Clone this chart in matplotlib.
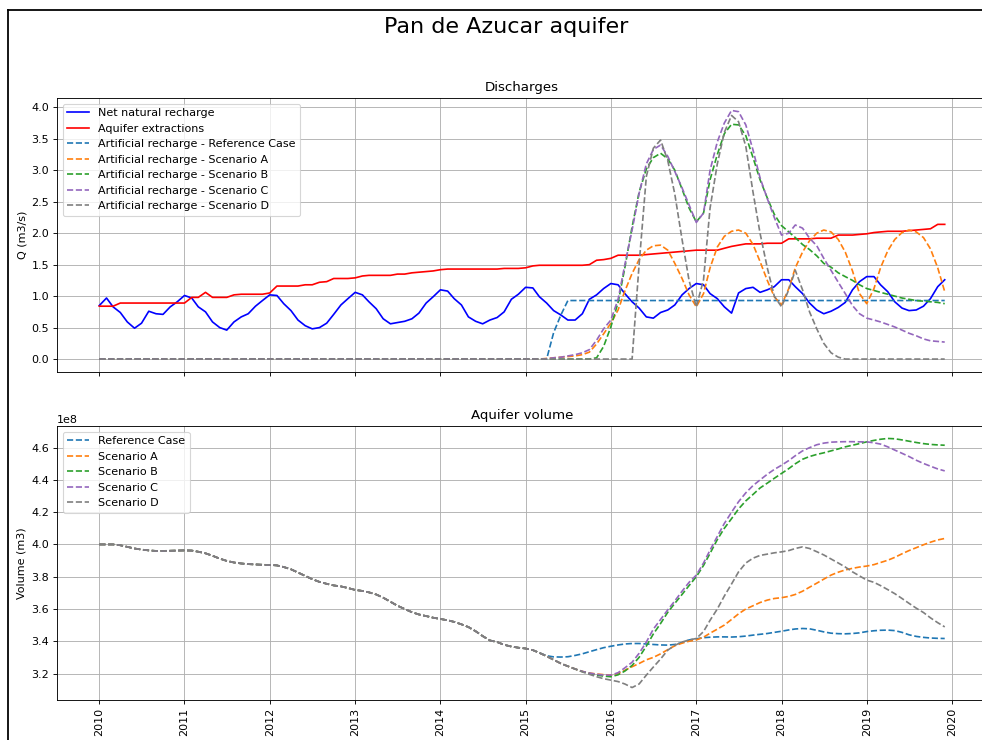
import numpy as np
import pandas as pd
import matplotlib
matplotlib.use("Agg")
import matplotlib.pyplot as plt
import matplotlib.dates as mdates
from matplotlib.lines import Line2D

# ---------------- data ----------------
dates = pd.date_range("2010-01-01", "2019-12-01", freq="MS")

net_natural_recharge = [
    0.85, 0.97, 0.83, 0.74, 0.59, 0.49, 0.57, 0.76, 0.72, 0.71, 0.83, 0.91,
    1.01, 0.97, 0.83, 0.75, 0.59, 0.50, 0.46, 0.59, 0.67, 0.72, 0.84, 0.93,
    1.02, 1.01, 0.88, 0.77, 0.62, 0.53, 0.48, 0.50, 0.57, 0.71, 0.86, 0.96,
    1.06, 1.02, 0.91, 0.80, 0.64, 0.56, 0.58, 0.60, 0.64, 0.73, 0.89, 0.99,
    1.10, 1.08, 0.96, 0.86, 0.67, 0.60, 0.56, 0.62, 0.66, 0.75, 0.95, 1.03,
    1.14, 1.13, 0.99, 0.89, 0.77, 0.70, 0.62, 0.62, 0.72, 0.95, 1.02, 1.12,
    1.20, 1.18, 1.04, 0.91, 0.81, 0.67, 0.65, 0.74, 0.78, 0.86, 1.02, 1.12,
    1.20, 1.18, 1.04, 0.96, 0.83, 0.73, 1.05, 1.12, 1.14, 1.06, 1.10, 1.15,
    1.26, 1.26, 1.15, 1.04, 0.89, 0.78, 0.72, 0.76, 0.82, 0.90, 1.10, 1.23,
    1.31, 1.31, 1.18, 1.07, 0.91, 0.81, 0.77, 0.78, 0.84, 0.96, 1.15, 1.26,
]

aquifer_extractions = [
    0.84, 0.84, 0.84, 0.89, 0.89, 0.89, 0.89, 0.89, 0.89, 0.89, 0.89, 0.89,
    0.89, 0.98, 0.98, 1.06, 0.98, 0.98, 0.98, 1.02, 1.03, 1.03, 1.03, 1.03,
    1.05, 1.16, 1.16, 1.16, 1.16, 1.18, 1.18, 1.22, 1.23, 1.28, 1.28, 1.28,
    1.29, 1.32, 1.33, 1.33, 1.33, 1.33, 1.35, 1.35, 1.37, 1.38, 1.39, 1.40,
    1.42, 1.43, 1.43, 1.43, 1.43, 1.43, 1.43, 1.43, 1.43, 1.44, 1.44, 1.44,
    1.45, 1.48, 1.49, 1.49, 1.49, 1.49, 1.49, 1.49, 1.49, 1.50, 1.57, 1.58,
    1.60, 1.65, 1.65, 1.65, 1.65, 1.66, 1.67, 1.68, 1.69, 1.70, 1.71, 1.72,
    1.73, 1.73, 1.73, 1.73, 1.76, 1.79, 1.81, 1.83, 1.83, 1.83, 1.84, 1.84,
    1.84, 1.91, 1.91, 1.91, 1.91, 1.92, 1.92, 1.92, 1.97, 1.97, 1.97, 1.98,
    1.99, 2.01, 2.02, 2.03, 2.03, 2.03, 2.04, 2.05, 2.06, 2.07, 2.14, 2.14,
]

# artificial recharge is zero from 2010 to 2014 in every case
ar_zero_2010_2014 = [0.0] * 60

ar_reference_2015_2019 = [
    0.0, 0.0, 0.0, 0.0, 0.42, 0.70, 0.93, 0.93, 0.93, 0.93, 0.93, 0.93,
    0.93, 0.93, 0.93, 0.93, 0.93, 0.93, 0.93, 0.93, 0.93, 0.93, 0.93, 0.93,
    0.93, 0.93, 0.93, 0.93, 0.93, 0.93, 0.93, 0.93, 0.93, 0.93, 0.93, 0.93,
    0.93, 0.93, 0.93, 0.93, 0.93, 0.93, 0.93, 0.93, 0.93, 0.93, 0.93, 0.93,
    0.93, 0.93, 0.93, 0.93, 0.93, 0.93, 0.93, 0.93, 0.93, 0.93, 0.93, 0.93,
]
ar_scenario_a_2015_2019 = [
    0.0, 0.0, 0.0, 0.01, 0.02, 0.03, 0.04, 0.05, 0.07, 0.11, 0.24, 0.40,
    0.57, 0.78, 1.08, 1.36, 1.58, 1.73, 1.80, 1.81, 1.73, 1.52, 1.28, 1.02,
    0.83, 1.04, 1.45, 1.78, 1.95, 2.03, 2.05, 2.00, 1.82, 1.55, 1.25, 0.99,
    0.86, 1.12, 1.45, 1.70, 1.88, 2.00, 2.05, 2.02, 1.90, 1.70, 1.40, 1.04,
    0.88, 1.12, 1.45, 1.72, 1.90, 2.01, 2.05, 2.02, 1.93, 1.75, 1.45, 1.07,
]
ar_scenario_b_2015_2019 = [
    0.0, 0.0, 0.0, 0.0, 0.0, 0.0, 0.0, 0.0, 0.0, 0.0, 0.02, 0.20,
    0.51, 0.90, 1.45, 2.10, 2.65, 3.02, 3.20, 3.27, 3.18, 3.00, 2.70, 2.40,
    2.18, 2.32, 2.85, 3.25, 3.58, 3.73, 3.72, 3.55, 3.20, 2.85, 2.56, 2.30,
    2.12, 2.02, 1.93, 1.82, 1.74, 1.64, 1.52, 1.46, 1.37, 1.31, 1.25, 1.18,
    1.12, 1.09, 1.06, 1.03, 1.00, 0.97, 0.95, 0.93, 0.92, 0.91, 0.90, 0.88,
]
ar_scenario_c_2015_2019 = [
    0.0, 0.0, 0.0, 0.005, 0.02, 0.03, 0.05, 0.07, 0.10, 0.15, 0.30, 0.48,
    0.62, 0.95, 1.50, 2.05, 2.63, 3.10, 3.33, 3.40, 3.22, 2.98, 2.72, 2.45,
    2.17, 2.32, 3.00, 3.45, 3.75, 3.95, 3.93, 3.72, 3.32, 2.88, 2.55, 2.25,
    1.97, 2.00, 2.13, 2.08, 1.92, 1.80, 1.60, 1.41, 1.22, 1.04, 0.85, 0.72,
    0.65, 0.62, 0.59, 0.55, 0.51, 0.46, 0.41, 0.37, 0.32, 0.29, 0.28, 0.27,
]
ar_scenario_d_2015_2019 = [
    0.0, 0.0, 0.0, 0.0, 0.0, 0.0, 0.0, 0.0, 0.0, 0.0, 0.0, 0.0,
    0.0, 0.0, 0.0, 0.0, 1.50, 2.90, 3.35, 3.48, 3.15, 2.62, 1.90, 1.25,
    0.83, 1.26, 2.40, 3.10, 3.60, 3.87, 3.77, 3.38, 2.65, 2.00, 1.45, 1.00,
    0.83, 1.10, 1.41, 1.10, 0.75, 0.48, 0.25, 0.10, 0.03, 0.0, 0.0, 0.0,
    0.0, 0.0, 0.0, 0.0, 0.0, 0.0, 0.0, 0.0, 0.0, 0.0, 0.0, 0.0,
]

# aquifer volume, in units of 1e8 m3
volume_unit = 1e8
volume_2010_2014 = [
    4.000, 4.000, 4.000, 3.995, 3.985, 3.975, 3.968, 3.963, 3.960, 3.960, 3.961, 3.962,
    3.963, 3.962, 3.955, 3.945, 3.930, 3.912, 3.898, 3.888, 3.882, 3.878, 3.876, 3.874,
    3.873, 3.870, 3.860, 3.846, 3.826, 3.805, 3.785, 3.768, 3.756, 3.746, 3.740, 3.730,
    3.718, 3.712, 3.703, 3.690, 3.670, 3.645, 3.620, 3.600, 3.580, 3.566, 3.556, 3.546,
    3.538, 3.530, 3.520, 3.505, 3.488, 3.462, 3.432, 3.405, 3.395, 3.378, 3.367, 3.360,
]
volume_reference_2015_2019 = [
    3.355, 3.345, 3.328, 3.310, 3.303, 3.302, 3.304, 3.312, 3.322, 3.335, 3.348, 3.360,
    3.369, 3.377, 3.383, 3.386, 3.386, 3.383, 3.380, 3.377, 3.376, 3.380, 3.392, 3.408,
    3.415, 3.422, 3.425, 3.427, 3.427, 3.426, 3.428, 3.432, 3.438, 3.443, 3.448, 3.455,
    3.462, 3.470, 3.476, 3.479, 3.477, 3.468, 3.458, 3.450, 3.447, 3.446, 3.448, 3.452,
    3.460, 3.465, 3.468, 3.469, 3.466, 3.455, 3.440, 3.430, 3.424, 3.420, 3.418, 3.417,
]
volume_scenario_a_2015_2019 = [
    3.355, 3.345, 3.328, 3.307, 3.285, 3.262, 3.245, 3.228, 3.213, 3.203, 3.197, 3.193,
    3.190, 3.200, 3.220, 3.242, 3.262, 3.285, 3.300, 3.322, 3.348, 3.372, 3.388, 3.400,
    3.408, 3.425, 3.450, 3.475, 3.500, 3.535, 3.570, 3.600, 3.620, 3.640, 3.655, 3.665,
    3.670, 3.678, 3.690, 3.710, 3.735, 3.760, 3.785, 3.810, 3.828, 3.842, 3.852, 3.860,
    3.866, 3.875, 3.888, 3.902, 3.920, 3.942, 3.962, 3.980, 3.998, 4.014, 4.028, 4.037,
]
volume_scenario_b_2015_2019 = [
    3.355, 3.345, 3.328, 3.307, 3.285, 3.262, 3.245, 3.228, 3.212, 3.200, 3.190, 3.184,
    3.180, 3.192, 3.215, 3.250, 3.300, 3.370, 3.445, 3.510, 3.580, 3.635, 3.690, 3.745,
    3.800, 3.870, 3.945, 4.030, 4.100, 4.160, 4.220, 4.270, 4.310, 4.350, 4.380, 4.410,
    4.440, 4.470, 4.500, 4.528, 4.545, 4.558, 4.568, 4.580, 4.592, 4.605, 4.615, 4.625,
    4.636, 4.645, 4.652, 4.657, 4.655, 4.648, 4.640, 4.632, 4.625, 4.620, 4.617, 4.615,
]
volume_scenario_c_2015_2019 = [
    3.355, 3.345, 3.328, 3.307, 3.285, 3.262, 3.245, 3.228, 3.213, 3.203, 3.195, 3.190,
    3.190, 3.205, 3.235, 3.270, 3.325, 3.395, 3.475, 3.535, 3.595, 3.650, 3.710, 3.765,
    3.810, 3.885, 3.965, 4.050, 4.130, 4.200, 4.265, 4.320, 4.365, 4.400, 4.435, 4.465,
    4.491, 4.520, 4.550, 4.580, 4.600, 4.618, 4.628, 4.634, 4.636, 4.637, 4.637, 4.636,
    4.636, 4.630, 4.622, 4.605, 4.585, 4.565, 4.545, 4.522, 4.502, 4.485, 4.468, 4.456,
]
volume_scenario_d_2015_2019 = [
    3.355, 3.345, 3.328, 3.307, 3.285, 3.262, 3.245, 3.228, 3.210, 3.195, 3.180, 3.168,
    3.159, 3.150, 3.135, 3.113, 3.135, 3.190, 3.240, 3.290, 3.345, 3.375, 3.395, 3.408,
    3.417, 3.460, 3.530, 3.600, 3.680, 3.755, 3.830, 3.885, 3.915, 3.932, 3.940, 3.948,
    3.954, 3.962, 3.975, 3.985, 3.975, 3.955, 3.935, 3.910, 3.885, 3.860, 3.830, 3.805,
    3.779, 3.765, 3.745, 3.720, 3.695, 3.665, 3.635, 3.605, 3.578, 3.545, 3.515, 3.489,
]

scenario_names = ["Reference Case", "Scenario A", "Scenario B", "Scenario C", "Scenario D"]
scenario_colors = ["tab:blue", "tab:orange", "tab:green", "tab:purple", "tab:gray"]
ar_tails = [ar_reference_2015_2019, ar_scenario_a_2015_2019, ar_scenario_b_2015_2019,
            ar_scenario_c_2015_2019, ar_scenario_d_2015_2019]
vol_tails = [volume_reference_2015_2019, volume_scenario_a_2015_2019, volume_scenario_b_2015_2019,
             volume_scenario_c_2015_2019, volume_scenario_d_2015_2019]

# ---------------- figure ----------------
W, H, DPI = 982, 740, 80
fig = plt.figure(figsize=(W / DPI, H / DPI), dpi=DPI)

left_px, right_px = 57, 987
ax1 = fig.add_axes([left_px / W, 1 - 371.5 / H, (right_px - left_px) / W, (371.5 - 98) / H])
ax2 = fig.add_axes([left_px / W, 1 - 700 / H, (right_px - left_px) / W, (700 - 426) / H], sharex=ax1)

ax1.plot(dates, net_natural_recharge, color="blue", label="Net natural recharge")
ax1.plot(dates, aquifer_extractions, color="red", label="Aquifer extractions")
for name, col, tail in zip(scenario_names, scenario_colors, ar_tails):
    ax1.plot(dates, ar_zero_2010_2014 + tail, "--", color=col,
             label="Artificial recharge - " + name)
ax1.set_title("Discharges")
ax1.set_ylabel("Q (m3/s)")
ax1.grid(True)
ax1.legend(loc="upper left")
plt.setp(ax1.get_xticklabels(), visible=False)

for name, col, tail in zip(scenario_names, scenario_colors, vol_tails):
    ax2.plot(dates, np.array(volume_2010_2014 + tail) * volume_unit, "--", color=col, label=name)
ax2.set_title("Aquifer volume")
ax2.set_ylabel("Volume (m3)")
ax2.grid(True)
ax2.legend(loc="upper left")

ax2.xaxis.set_major_locator(mdates.YearLocator())
ax2.xaxis.set_major_formatter(mdates.DateFormatter("%Y"))
plt.setp(ax2.get_xticklabels(), rotation=90)

fig.text(506 / W, 1 - 27 / H, "Pan de Azucar aquifer", ha="center", va="center", fontsize=20)

# frame of the screenshot
fig.add_artist(Line2D([8 / W, 1], [1 - 10 / H, 1 - 10 / H], transform=fig.transFigure,
                      color="black", lw=1.6))
fig.add_artist(Line2D([8 / W, 8 / W], [0, 1 - 10 / H], transform=fig.transFigure,
                      color="black", lw=1.6))

fig.savefig("out.png", dpi=DPI)
